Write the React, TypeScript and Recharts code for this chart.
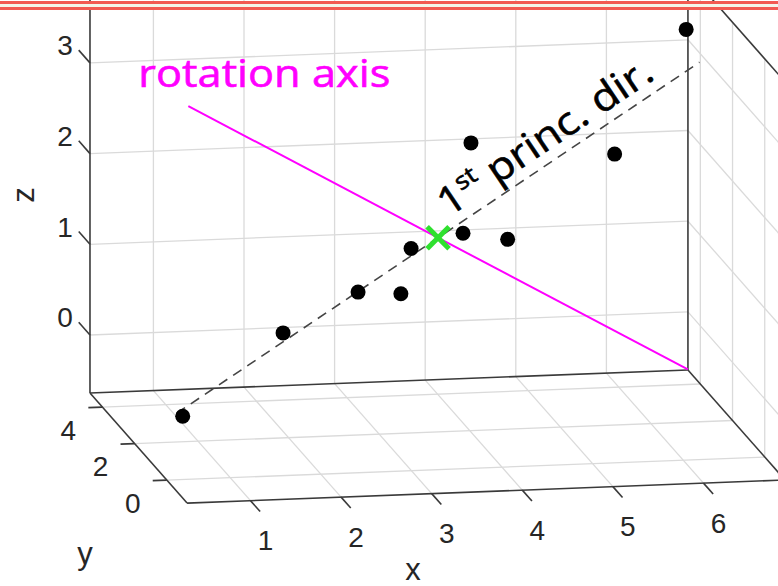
import React from 'react';
import { ScatterChart, Scatter, XAxis, YAxis, ReferenceLine } from 'recharts';

const xs = [0.49, 1.74, 2.66, 3.17, 3.32, 3.95, 4.1, 4.48, 5.81, 6.74];
const ys = [0.08, 0.88, 1.4, 1.61, 1.82, 2.14, 2.49, 2.35, 3.19, 3.98];
const zs = [0.04, 0.75, 1.06, 0.98, 1.43, 1.51, 2.43, 1.38, 2.1, 3.28];

// mean point, half of the 1st principal direction, half of the rotation axis
const centroid = [3.65, 2.0, 1.5];
const principalDir = [3.23, 1.94, 1.42];
const rotationAxis = [2.22, -3.02, -0.93];

const xTicks = [1, 2, 3, 4, 5, 6];
const yTicks = [0, 2, 4];
const zTicks = [0, 1, 2, 3];

const xLim = [0.3, 6.9];
const yLim = [-1.26, 4.77];
const zLim = [-0.64, 3.75];

const W = 778;
const H = 586;

// camera: pixel origin and unit vectors of x, y, z on screen
const view = { ox: 139.6, oy: 423.1, ex: [90.6, -3.5], ey: [-16.1, -18.25], ez: [0, -90.7] };

const proj = (p: number[]) => ({
  sx: view.ox + p[0] * view.ex[0] + p[1] * view.ey[0] + p[2] * view.ez[0],
  sy: view.oy + p[0] * view.ex[1] + p[1] * view.ey[1] + p[2] * view.ez[1],
});
const add = (a: number[], b: number[], k = 1) => a.map((v, i) => v + k * b[i]);
const seg = (a: number[], b: number[]) => {
  const p = proj(a);
  const q = proj(b);
  return [{ x: p.sx, y: p.sy }, { x: q.sx, y: q.sy }];
};

const [x0, x1] = xLim;
const [y0, y1] = yLim;
const [z0, z1] = zLim;

const gridSegs = [
  // back wall (y = ymax)
  ...xTicks.map((x) => seg([x, y1, z0], [x, y1, z1])),
  ...zTicks.map((z) => seg([x0, y1, z], [x1, y1, z])),
  // floor
  ...xTicks.map((x) => seg([x, y0, z0], [x, y1, z0])),
  ...yTicks.map((y) => seg([x0, y, z0], [x1, y, z0])),
  // right wall (x = xmax)
  ...yTicks.map((y) => seg([x1, y, z0], [x1, y, z1])),
  ...zTicks.map((z) => seg([x1, y0, z], [x1, y1, z])),
];

const edgeSegs = [
  seg([x0, y1, z0], [x0, y1, z1]),
  seg([x0, y1, z0], [x1, y1, z0]),
  seg([x0, y1, z0], [x0, y0, z0]),
  seg([x0, y0, z0], [x1, y0, z0]),
  seg([x1, y0, z0], [x1, y1, z0]),
  seg([x1, y1, z0], [x1, y1, z1]),
  seg([x1, y0, z1], [x1, y1, z1]),
];

const tickSegs = [
  ...xTicks.map((x) => seg([x, y0, z0], [x, y0 - 0.6, z0])),
  ...yTicks.map((y) => seg([x0, y, z0], [x0 - 0.155, y, z0])),
  ...zTicks.map((z) => seg([x0, y1, z], [x0, y1 + 0.7, z])),
];

const points = xs.map((x, i) => proj([x, ys[i], zs[i]]));
const centre = [proj(centroid)];
const pcSeg = seg(add(centroid, principalDir, -1), add(centroid, principalDir));
const rotSeg = seg(add(centroid, rotationAxis, -1), add(centroid, rotationAxis));
const pcAngle = (Math.atan2(pcSeg[1].y - pcSeg[0].y, pcSeg[1].x - pcSeg[0].x) * 180) / Math.PI;

const xLabels = xTicks.map((x) => ({ ...proj([x, y0, z0]), label: String(x) }));
const yLabels = yTicks.map((y) => ({ ...proj([x0, y, z0]), label: String(y) }));
const zLabels = zTicks.map((z) => ({ ...proj([x0, y1, z]), label: String(z) }));
const rotLabel = [{ ...proj(add(centroid, rotationAxis, -1)), label: 'rotation axis' }];

const tickFont = { fontFamily: '"Liberation Sans", Arial, sans-serif', fontSize: 28, fill: '#262626' };
const axisFont = { fontFamily: '"Liberation Sans", Arial, sans-serif', fontSize: 31, color: '#262626', lineHeight: 1 };
const handFont = '"Comic Sans MS", "Open Sans", sans-serif';

const textShape = (dx: number, dy: number, style: any) => (p: any) => (
  <text x={p.cx + dx} y={p.cy + dy} textAnchor="middle" dominantBaseline="central" style={style}>
    {p.payload.label}
  </text>
);

const Dot = (p: any) => <circle cx={p.cx} cy={p.cy} r={7.5} fill="#000" />;

const Cross = (p: any) => (
  <g stroke="#2fe02f" strokeWidth={5} strokeLinecap="butt">
    <line x1={p.cx - 11} y1={p.cy - 11} x2={p.cx + 11} y2={p.cy + 11} />
    <line x1={p.cx - 11} y1={p.cy + 11} x2={p.cx + 11} y2={p.cy - 11} />
  </g>
);

const PcLabel = (p: any) => (
  <text
    transform={`translate(${p.cx},${p.cy}) rotate(${pcAngle})`}
    x={20}
    y={-11}
    fontFamily={handFont}
    fontSize={39}
    fill="#000"
    stroke="#000"
    strokeWidth={0.6}
    textLength={250}
    lengthAdjust="spacingAndGlyphs"
  >
    1
    <tspan dy={-15} fontSize={24}>st</tspan>
    <tspan dy={15} fontSize={39}>{' princ. dir.'}</tspan>
  </text>
);

const RotLabel = (p: any) => (
  <text
    x={p.cx - 50}
    y={p.cy - 19}
    fontFamily={handFont}
    fontSize={39}
    fill="#ff00ff"
    stroke="#ff00ff"
    strokeWidth={0.6}
    textLength={252}
    lengthAdjust="spacingAndGlyphs"
  >
    {p.payload.label}
  </text>
);

export default function App() {
  return (
    <div style={{ position: 'absolute', left: 0, top: 0, width: W, height: H, background: '#fff', overflow: 'hidden' }}>
      <ScatterChart width={W} height={H} margin={{ top: 0, right: 0, bottom: 0, left: 0 }}>
        <XAxis type="number" dataKey="sx" domain={[0, W]} hide allowDataOverflow />
        <YAxis type="number" dataKey="sy" domain={[0, H]} reversed hide allowDataOverflow />
        {gridSegs.map((s, i) => (
          <ReferenceLine key={`g${i}`} segment={s} stroke="#dadada" strokeWidth={1.3} ifOverflow="visible" />
        ))}
        {edgeSegs.map((s, i) => (
          <ReferenceLine key={`e${i}`} segment={s} stroke="#3a3a3a" strokeWidth={1.6} ifOverflow="visible" />
        ))}
        {tickSegs.map((s, i) => (
          <ReferenceLine key={`t${i}`} segment={s} stroke="#3a3a3a" strokeWidth={1.6} ifOverflow="visible" />
        ))}
        <ReferenceLine segment={pcSeg} stroke="#444" strokeWidth={1.6} strokeDasharray="10 7" ifOverflow="visible" />
        <ReferenceLine segment={rotSeg} stroke="#ff00ff" strokeWidth={2} ifOverflow="visible" />
        <Scatter data={points} shape={Dot} isAnimationActive={false} />
        <Scatter data={centre} shape={Cross} isAnimationActive={false} />
        <Scatter data={centre} shape={PcLabel} isAnimationActive={false} />
        <Scatter data={rotLabel} shape={RotLabel} isAnimationActive={false} />
        <Scatter data={xLabels} shape={textShape(15, 40, tickFont)} isAnimationActive={false} />
        <Scatter data={yLabels} shape={textShape(-34, 23, tickFont)} isAnimationActive={false} />
        <Scatter data={zLabels} shape={textShape(-25, -17, tickFont)} isAnimationActive={false} />
      </ScatterChart>
      <div style={{ position: 'absolute', left: 23, top: 195, transform: 'translate(-50%,-50%) rotate(-90deg)', ...axisFont }}>z</div>
      <div style={{ position: 'absolute', left: 85, top: 553, transform: 'translate(-50%,-50%)', ...axisFont }}>y</div>
      <div style={{ position: 'absolute', left: 413, top: 569, transform: 'translate(-50%,-50%)', ...axisFont }}>x</div>
      <div style={{ position: 'absolute', left: 0, top: 1, width: W, height: 3, background: '#f25a52' }} />
      <div style={{ position: 'absolute', left: 0, top: 4, width: W, height: 3, background: '#f3f6ea' }} />
      <div style={{ position: 'absolute', left: 0, top: 7, width: W, height: 3, background: '#f25a52' }} />
    </div>
  );
}
